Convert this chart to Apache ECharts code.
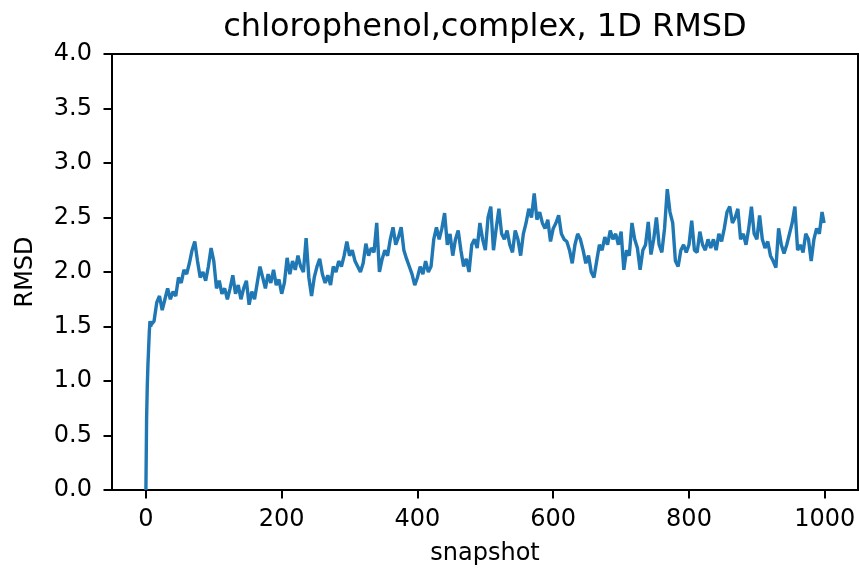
<!DOCTYPE html>
<html>
<head>
<meta charset="utf-8">
<script src="https://cdn.jsdelivr.net/npm/echarts@6/dist/echarts.min.js"></script>
<style>
html,body{margin:0;padding:0;background:#fff;}
#chart{width:860px;height:574px;}
</style>
</head>
<body>
<div id="chart"></div>
<script>
// Snapshots 0..7 (every snapshot)
const startRmsd = [0.0, 0.65, 0.95, 1.15, 1.3, 1.45, 1.55, 1.5];
// Snapshots 8..996, every 4th snapshot
const rmsd = [
  1.52,1.55,1.72,1.78,1.65,1.75,1.85,1.75,1.82,1.78,
  1.95,1.9,2.02,1.98,2.08,2.2,2.28,2.1,1.95,2.0,
  1.92,2.05,2.22,2.1,1.85,1.92,1.8,1.85,1.75,1.85,
  1.97,1.8,1.88,1.75,1.85,1.92,1.7,1.82,1.75,1.9,
  2.05,1.95,1.85,1.98,1.9,2.02,1.88,1.93,1.8,1.9,
  2.13,1.98,2.1,2.02,2.15,2.05,2.0,2.31,1.95,1.78,
  1.95,2.05,2.12,1.98,1.9,1.97,1.88,2.05,2.0,2.1,
  2.05,2.15,2.28,2.15,2.2,2.1,2.05,2.0,2.08,2.26,
  2.15,2.22,2.18,2.45,2.0,2.12,2.2,2.15,2.3,2.41,
  2.25,2.32,2.41,2.2,2.12,2.05,1.98,1.88,1.95,2.05,
  1.98,2.1,2.0,2.05,2.3,2.41,2.3,2.4,2.54,2.25,
  2.35,2.15,2.3,2.38,2.2,2.05,2.12,2.0,2.25,2.3,
  2.22,2.45,2.3,2.2,2.5,2.6,2.2,2.4,2.58,2.35,
  2.3,2.38,2.25,2.18,2.38,2.3,2.15,2.35,2.45,2.58,
  2.5,2.72,2.48,2.55,2.45,2.4,2.48,2.28,2.4,2.45,
  2.52,2.35,2.3,2.28,2.2,2.08,2.25,2.35,2.3,2.2,
  2.08,2.15,2.0,1.95,2.1,2.25,2.2,2.32,2.25,2.38,
  2.3,2.35,2.25,2.37,2.02,2.2,2.15,2.45,2.3,2.22,
  2.02,2.2,2.25,2.46,2.16,2.3,2.5,2.25,2.18,2.4,
  2.76,2.55,2.45,2.1,2.05,2.2,2.25,2.18,2.25,2.47,
  2.2,2.18,2.37,2.25,2.2,2.3,2.22,2.3,2.2,2.35,
  2.28,2.4,2.55,2.6,2.45,2.5,2.58,2.3,2.35,2.25,
  2.4,2.6,2.35,2.3,2.52,2.3,2.22,2.28,2.15,2.1,
  2.04,2.4,2.25,2.17,2.25,2.35,2.45,2.6,2.2,2.25,
  2.18,2.35,2.3,2.1,2.3,2.4,2.35,2.55
];
// Last snapshot (999)
const tailRmsd = [2.45];

const xTicks = [0, 200, 400, 600, 800, 1000];
const yTicks = [0, 0.5, 1.0, 1.5, 2.0, 2.5, 3.0, 3.5, 4.0];

const data = [];
startRmsd.forEach((v, i) => data.push([i, v]));
rmsd.forEach((v, i) => data.push([8 + i * 4, v]));
tailRmsd.forEach((v) => data.push([999, v]));

const font = 'DejaVu Sans';
const chart = echarts.init(document.getElementById('chart'), null, {renderer: 'canvas'});
chart.setOption({
  animation: false,
  backgroundColor: '#fff',
  title: {
    text: 'chlorophenol,complex, 1D RMSD',
    left: 480,
    textAlign: 'center',
    top: 7,
    textStyle: {fontFamily: font, fontSize: 32, fontWeight: 'normal', color: '#000'}
  },
  grid: {
    left: 112, right: 2, top: 54, bottom: 84,
    show: true, borderColor: '#000', borderWidth: 2, backgroundColor: 'transparent'
  },
  xAxis: {
    type: 'value',
    min: -49.95,
    max: 1048.95,
    name: 'snapshot',
    nameLocation: 'middle',
    nameGap: 52,
    nameTextStyle: {fontFamily: font, fontSize: 24, color: '#000'},
    axisLine: {show: true, onZero: false, lineStyle: {color: '#000', width: 2}},
    axisTick: {show: true, length: 8.5, lineStyle: {color: '#000', width: 2}, customValues: xTicks},
    axisLabel: {fontFamily: font, fontSize: 24, color: '#000', margin: 18, customValues: xTicks,
      formatter: (v) => String(v)},
    splitLine: {show: false}
  },
  yAxis: {
    type: 'value',
    min: 0,
    max: 4,
    interval: 0.5,
    name: 'RMSD',
    nameLocation: 'middle',
    nameGap: 74,
    nameTextStyle: {fontFamily: font, fontSize: 24, color: '#000'},
    axisLine: {show: true, onZero: false, lineStyle: {color: '#000', width: 2}},
    axisTick: {show: true, length: 8.5, lineStyle: {color: '#000', width: 2}},
    axisLabel: {fontFamily: font, fontSize: 24, color: '#000', margin: 20,
      formatter: (v) => v.toFixed(1)},
    splitLine: {show: false}
  },
  series: [{
    type: 'line',
    data: data,
    showSymbol: false,
    symbol: 'none',
    lineStyle: {color: '#1f77b4', width: 3.4},
    clip: true
  }]
});
</script>
</body>
</html>
